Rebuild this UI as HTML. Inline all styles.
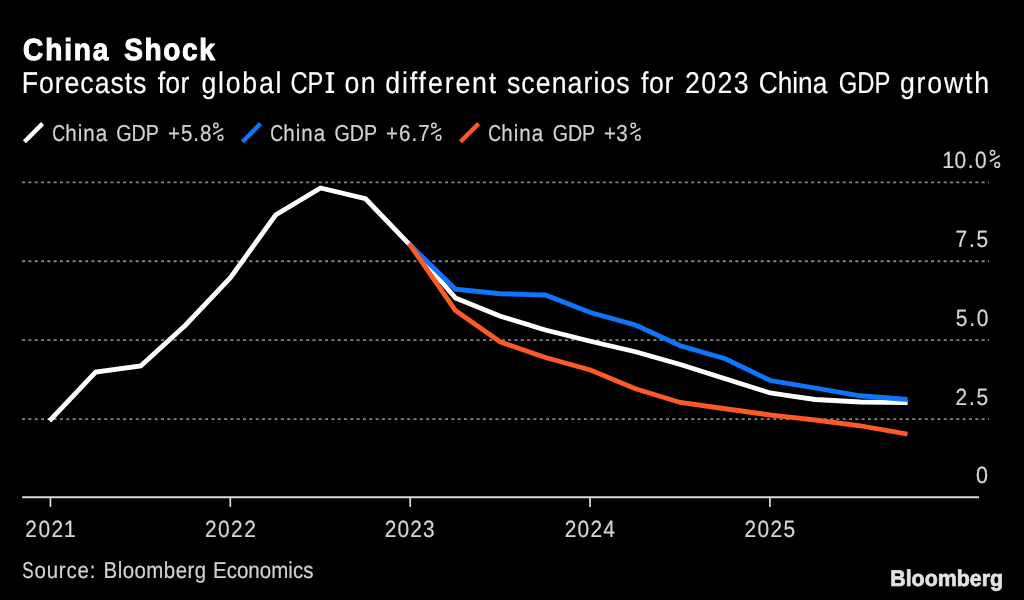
<!DOCTYPE html>
<html><head><meta charset="utf-8"><title>China Shock</title>
<style>
html,body{margin:0;padding:0;background:#000;}
body{width:1024px;height:600px;overflow:hidden;font-family:"Liberation Sans",sans-serif;}
svg{display:block;font-family:"Liberation Sans",sans-serif;}
</style></head><body>
<svg width="1024" height="600" viewBox="0 0 1024 600" role="img" aria-label="China Shock: Forecasts for global CPI on different scenarios for 2023 China GDP growth">
<desc>China Shock. Forecasts for global CPI on different scenarios for 2023 China GDP growth. Series: China GDP +5.8%, China GDP +6.7%, China GDP +3%. Source: Bloomberg Economics.</desc>
<rect width="1024" height="600" fill="#000"/>
<g style="opacity:0.999;text-rendering:geometricPrecision">
<text transform="translate(23.10,59.70) scale(0.9200,1)" font-size="30.5" font-weight="bold" stroke="#fff" stroke-width="1.00" letter-spacing="1.984" fill="#fff">China</text>
<text transform="translate(124.33,59.70) scale(0.9200,1)" font-size="30.5" font-weight="bold" stroke="#fff" stroke-width="1.00" letter-spacing="1.696" fill="#fff">Shock</text>
<text transform="translate(21.66,92.90) scale(0.8900,1)" font-size="30.0" stroke="#fff" stroke-width="0.18" letter-spacing="1.067" fill="#fff">Forecasts</text>
<text transform="translate(157.65,92.90) scale(0.8900,1)" font-size="30.0" stroke="#fff" stroke-width="0.18" letter-spacing="0.315" fill="#fff">for</text>
<text transform="translate(201.48,92.90) scale(0.8900,1)" font-size="30.0" stroke="#fff" stroke-width="0.18" letter-spacing="1.969" fill="#fff">global</text>
<text transform="translate(290.40,92.90) scale(0.7901,1)" font-size="30.0" stroke="#fff" stroke-width="0.18" fill="#fff">CP</text>
<text transform="translate(344.48,92.90) scale(0.8900,1)" font-size="30.0" stroke="#fff" stroke-width="0.18" letter-spacing="1.570" fill="#fff">on</text>
<text transform="translate(385.28,92.90) scale(0.8900,1)" font-size="30.0" stroke="#fff" stroke-width="0.18" letter-spacing="2.105" fill="#fff">different</text>
<text transform="translate(506.92,92.90) scale(0.8900,1)" font-size="30.0" stroke="#fff" stroke-width="0.18" letter-spacing="1.192" fill="#fff">scenarios</text>
<text transform="translate(640.89,92.90) scale(0.8900,1)" font-size="30.0" stroke="#fff" stroke-width="0.18" letter-spacing="0.736" fill="#fff">for</text>
<text transform="translate(685.00,92.90) scale(0.8900,1)" font-size="30.0" stroke="#fff" stroke-width="0.18" letter-spacing="1.539" fill="#fff">2023</text>
<text transform="translate(758.78,92.90) scale(0.8730,1)" font-size="30.0" stroke="#fff" stroke-width="0.18" fill="#fff">China</text>
<text transform="translate(838.80,92.90) scale(0.7939,1)" font-size="30.0" stroke="#fff" stroke-width="0.18" fill="#fff">GDP</text>
<text transform="translate(899.98,92.90) scale(0.8900,1)" font-size="30.0" stroke="#fff" stroke-width="0.18" letter-spacing="1.998" fill="#fff">growth</text>
<text transform="translate(325.77,92.95) scale(1.0073,1)" font-size="30.0" stroke="#fff" stroke-width="0.18" fill="#fff">I</text>
<text transform="translate(52.25,140.80) scale(0.7710,1)" font-size="23.1" stroke="#d2d2d2" stroke-width="0.22" fill="#d2d2d2">C</text>
<text transform="translate(65.28,140.80) scale(0.8900,1)" font-size="23.1" stroke="#d2d2d2" stroke-width="0.22" letter-spacing="1.115" fill="#d2d2d2">hina</text>
<text transform="translate(116.29,140.80) scale(0.8533,1)" font-size="23.1" stroke="#d2d2d2" stroke-width="0.22" fill="#d2d2d2">GDP</text>
<text transform="translate(167.92,140.80) scale(0.8900,1)" font-size="23.1" stroke="#d2d2d2" stroke-width="0.22" letter-spacing="1.110" fill="#d2d2d2">+5.8</text>
<text transform="translate(270.25,140.80) scale(0.7710,1)" font-size="23.1" stroke="#d2d2d2" stroke-width="0.22" fill="#d2d2d2">C</text>
<text transform="translate(283.28,140.80) scale(0.8900,1)" font-size="23.1" stroke="#d2d2d2" stroke-width="0.22" letter-spacing="1.115" fill="#d2d2d2">hina</text>
<text transform="translate(334.45,140.80) scale(0.8501,1)" font-size="23.1" stroke="#d2d2d2" stroke-width="0.22" fill="#d2d2d2">GDP</text>
<text transform="translate(385.92,140.80) scale(0.8900,1)" font-size="23.1" stroke="#d2d2d2" stroke-width="0.22" letter-spacing="1.223" fill="#d2d2d2">+6.7</text>
<text transform="translate(488.25,140.80) scale(0.7710,1)" font-size="23.1" stroke="#d2d2d2" stroke-width="0.22" fill="#d2d2d2">C</text>
<text transform="translate(501.28,140.80) scale(0.8900,1)" font-size="23.1" stroke="#d2d2d2" stroke-width="0.22" letter-spacing="1.115" fill="#d2d2d2">hina</text>
<text transform="translate(552.65,140.80) scale(0.8501,1)" font-size="23.1" stroke="#d2d2d2" stroke-width="0.22" fill="#d2d2d2">GDP</text>
<text transform="translate(603.97,140.80) scale(0.8900,1)" font-size="23.1" stroke="#d2d2d2" stroke-width="0.22" letter-spacing="0.390" fill="#d2d2d2">+3</text>
<text transform="translate(22.37,577.60) scale(0.7381,1)" font-size="23.0" stroke="#d2d2d2" stroke-width="0.22" fill="#d2d2d2">S</text>
<text transform="translate(34.47,577.60) scale(0.8900,1)" font-size="23.0" stroke="#d2d2d2" stroke-width="0.22" letter-spacing="0.890" fill="#d2d2d2">ource:</text>
<text transform="translate(103.55,577.60) scale(0.8900,1)" font-size="23.0" stroke="#d2d2d2" stroke-width="0.22" letter-spacing="0.514" fill="#d2d2d2">Bloomberg</text>
<text transform="translate(212.95,577.60) scale(0.8900,1)" font-size="23.0" stroke="#d2d2d2" stroke-width="0.22" letter-spacing="0.053" fill="#d2d2d2">Economics</text>
<text transform="translate(890.18,586.30) scale(0.9475,1)" font-size="22.6" font-weight="bold" stroke="#e4e4e4" stroke-width="0.70" fill="#e4e4e4">Bloomberg</text>
<text transform="translate(942.24,168.00) scale(0.9249,1)" font-size="23.5" stroke="#d6d6d6" stroke-width="0.22" fill="#d6d6d6">1</text>
<text transform="translate(954.52,168.00) scale(0.8900,1)" font-size="23.5" stroke="#d6d6d6" stroke-width="0.22" letter-spacing="1.692" fill="#d6d6d6">0.0</text>
<text transform="translate(955.60,247.00) scale(0.8900,1)" font-size="23.5" stroke="#d6d6d6" stroke-width="0.22" letter-spacing="1.930" fill="#d6d6d6">7.5</text>
<text transform="translate(955.82,325.90) scale(0.8900,1)" font-size="23.5" stroke="#d6d6d6" stroke-width="0.22" letter-spacing="2.029" fill="#d6d6d6">5.0</text>
<text transform="translate(955.60,404.90) scale(0.8900,1)" font-size="23.5" stroke="#d6d6d6" stroke-width="0.22" letter-spacing="1.874" fill="#d6d6d6">2.5</text>
<text transform="translate(976.10,483.20) scale(0.9138,1)" font-size="23.5" stroke="#d6d6d6" stroke-width="0.22" fill="#d6d6d6">0</text>
<text transform="translate(25.25,536.90) scale(0.8900,1)" font-size="23.5" stroke="#d6d6d6" stroke-width="0.22" letter-spacing="1.698" fill="#d6d6d6">202</text>
<text transform="translate(63.79,536.90) scale(0.9249,1)" font-size="23.5" stroke="#d6d6d6" stroke-width="0.22" fill="#d6d6d6">1</text>
<text transform="translate(204.90,536.90) scale(0.8900,1)" font-size="23.5" stroke="#d6d6d6" stroke-width="0.22" letter-spacing="1.649" fill="#d6d6d6">2022</text>
<text transform="translate(384.80,536.90) scale(0.8900,1)" font-size="23.5" stroke="#d6d6d6" stroke-width="0.22" letter-spacing="1.266" fill="#d6d6d6">2023</text>
<text transform="translate(564.70,536.90) scale(0.8900,1)" font-size="23.5" stroke="#d6d6d6" stroke-width="0.22" letter-spacing="1.407" fill="#d6d6d6">2024</text>
<text transform="translate(744.60,536.90) scale(0.8900,1)" font-size="23.5" stroke="#d6d6d6" stroke-width="0.22" letter-spacing="1.453" fill="#d6d6d6">2025</text>
<path fill="#fff" d="M325.7,72.3H334.2V74.6H325.7Z M325.7,90.7H334.2V92.95H325.7Z"/>
<g fill="none" stroke="#d2d2d2" stroke-width="1.7"><circle cx="215.90" cy="125.50" r="2.2" stroke-width="1.45"/><circle cx="220.55" cy="137.70" r="2.35" stroke-width="1.5"/><line x1="213.15" y1="134.25" x2="223.05" y2="128.45" stroke-width="1.6"/></g>
<g fill="none" stroke="#d2d2d2" stroke-width="1.7"><circle cx="433.90" cy="125.50" r="2.2" stroke-width="1.45"/><circle cx="438.55" cy="137.70" r="2.35" stroke-width="1.5"/><line x1="431.15" y1="134.25" x2="441.05" y2="128.45" stroke-width="1.6"/></g>
<g fill="none" stroke="#d2d2d2" stroke-width="1.7"><circle cx="633.21" cy="125.50" r="2.2" stroke-width="1.45"/><circle cx="637.86" cy="137.70" r="2.35" stroke-width="1.5"/><line x1="630.46" y1="134.25" x2="640.36" y2="128.45" stroke-width="1.6"/></g>
<g fill="none" stroke="#d6d6d6" stroke-width="1.7"><circle cx="992.55" cy="152.75" r="2.2" stroke-width="1.45"/><circle cx="997.20" cy="164.95" r="2.35" stroke-width="1.5"/><line x1="989.80" y1="161.50" x2="999.70" y2="155.70" stroke-width="1.6"/></g>
</g>
<line x1="24.50" y1="141.7" x2="42.60" y2="123.6" stroke="#ffffff" stroke-width="4.4"/>
<line x1="242.50" y1="141.7" x2="260.60" y2="123.6" stroke="#0d76ff" stroke-width="4.4"/>
<line x1="460.50" y1="141.7" x2="478.60" y2="123.6" stroke="#ff5a26" stroke-width="4.4"/>
<line x1="22.1" y1="182.30" x2="989" y2="182.30" stroke="#848484" stroke-width="1.8" stroke-dasharray="3.0 3.3124"/>
<line x1="22.1" y1="261.25" x2="989" y2="261.25" stroke="#848484" stroke-width="1.8" stroke-dasharray="3.0 3.3124"/>
<line x1="22.1" y1="340.20" x2="989" y2="340.20" stroke="#848484" stroke-width="1.8" stroke-dasharray="3.0 3.3124"/>
<line x1="22.1" y1="419.20" x2="989" y2="419.20" stroke="#848484" stroke-width="1.8" stroke-dasharray="3.0 3.3124"/>
<line x1="22.2" y1="497.20" x2="979" y2="497.20" stroke="#dcdcdc" stroke-width="2.1"/>
<line x1="50.45" y1="497.20" x2="50.45" y2="506.9" stroke="#dcdcdc" stroke-width="1.7"/>
<line x1="230.32" y1="497.20" x2="230.32" y2="506.9" stroke="#dcdcdc" stroke-width="1.7"/>
<line x1="410.19" y1="497.20" x2="410.19" y2="506.9" stroke="#dcdcdc" stroke-width="1.7"/>
<line x1="590.06" y1="497.20" x2="590.06" y2="506.9" stroke="#dcdcdc" stroke-width="1.7"/>
<line x1="769.93" y1="497.20" x2="769.93" y2="506.9" stroke="#dcdcdc" stroke-width="1.7"/>
<path d="M51.15,419.10 L95.72,372.00 L140.69,366.00 L185.66,325.00 L230.63,277.50 L275.60,215.00 L320.57,188.00 L365.54,198.75 L410.51,245.50 L455.48,298.00 L500.45,316.25 L545.42,330.00 L590.39,341.25 L635.36,351.75 L680.33,364.50 L725.30,378.75 L770.27,393.00 L815.24,399.50 L860.21,402.00 L905.18,402.50" fill="none" stroke="#ffffff" stroke-width="4.8" stroke-linejoin="miter" stroke-linecap="square"/>
<path d="M410.51,245.50 L455.48,289.25 L500.45,293.75 L545.42,295.00 L590.39,312.50 L635.36,325.00 L680.33,345.75 L725.30,358.75 L770.27,380.50 L815.24,388.00 L860.21,395.75 L905.18,399.30" fill="none" stroke="#0d76ff" stroke-width="4.8" stroke-linejoin="miter" stroke-linecap="square"/>
<path d="M410.51,245.50 L455.48,310.50 L500.45,342.00 L545.42,357.50 L590.39,370.00 L635.36,388.75 L680.33,402.50 L725.30,408.75 L770.27,415.00 L815.24,420.00 L860.21,425.75 L905.18,433.70" fill="none" stroke="#ff5a26" stroke-width="4.8" stroke-linejoin="miter" stroke-linecap="square"/>
</svg>
</body></html>
